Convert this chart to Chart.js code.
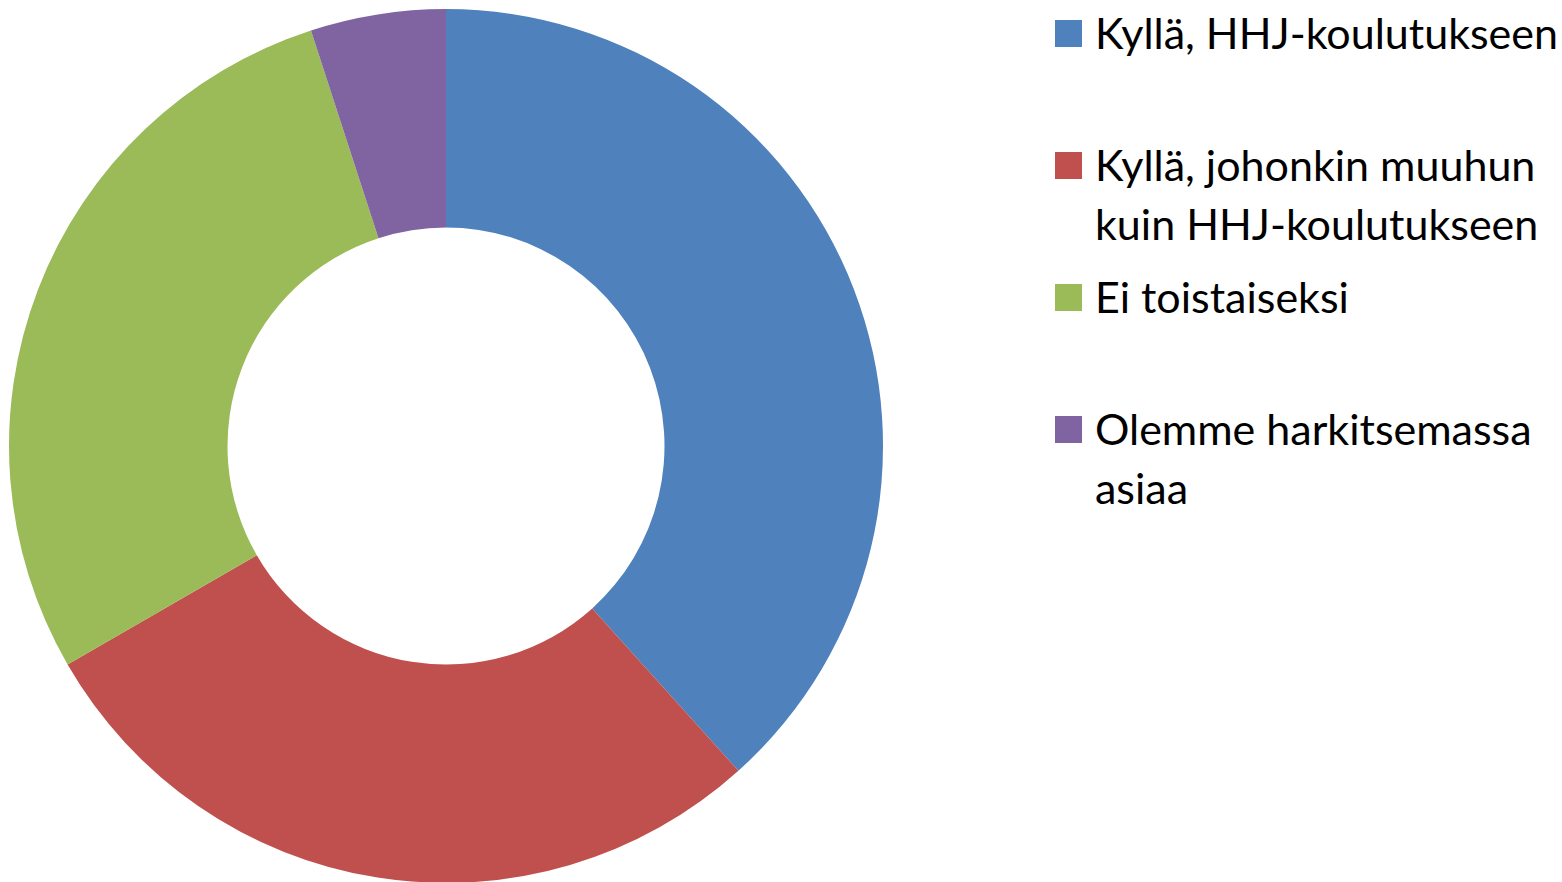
<!DOCTYPE html>
<html>
<head>
<meta charset="utf-8">
<script src="https://cdn.jsdelivr.net/npm/chart.js@4/dist/chart.umd.min.js"></script>
<style>
  html, body { margin: 0; padding: 0; background: #fff; overflow: hidden; }
  body { width: 1562px; height: 882px; position: relative; }
  #wrap { position: absolute; left: 0; top: 0; width: 892px; height: 892px; }
  #legend { position: absolute; left: 1055px; top: 3px; margin: 0; padding: 0; list-style: none;
    font-family: Lato, "Open Sans", sans-serif; font-size: 43px; color: #000; }
  #legend li { position: relative; height: 132px; padding-left: 40px; line-height: 59px; white-space: nowrap; }
  #legend .sw { position: absolute; left: 0; top: 17px; width: 27px; height: 27px; }
</style>
</head>
<body>
<div id="wrap"><canvas id="donut"></canvas></div>
<ul id="legend"></ul>
<script>
const labels = [
  ['Kyllä, HHJ-koulutukseen'],
  ['Kyllä, johonkin muuhun', 'kuin HHJ-koulutukseen'],
  ['Ei toistaiseksi'],
  ['Olemme harkitsemassa', 'asiaa']
];
const values = [23, 17, 17, 3];
const colors = ['#4F81BD', '#C0504D', '#9BBB59', '#8064A2'];

(function() {
  const legendList = document.getElementById('legend');
  labels.forEach((lines, i) => {
    const li = document.createElement('li');
    li.innerHTML = `<span class="sw" style="background:${colors[i]}"></span>${lines.join('<br>')}`;
    legendList.appendChild(li);
  });

  new Chart(document.getElementById('donut').getContext('2d'), {
    type: 'doughnut',
    data: {
      labels: labels.map(l => l.join(' ')),
      datasets: [{
        data: values,
        backgroundColor: colors,
        borderWidth: 0
      }]
    },
    options: {
      responsive: true,
      maintainAspectRatio: false,
      animation: false,
      cutout: '50%',
      layout: { padding: { top: 9, bottom: 9, left: 8, right: 8 } },
      plugins: {
        legend: { display: false },
        tooltip: { enabled: false }
      }
    }
  });
})();
</script>
</body>
</html>
